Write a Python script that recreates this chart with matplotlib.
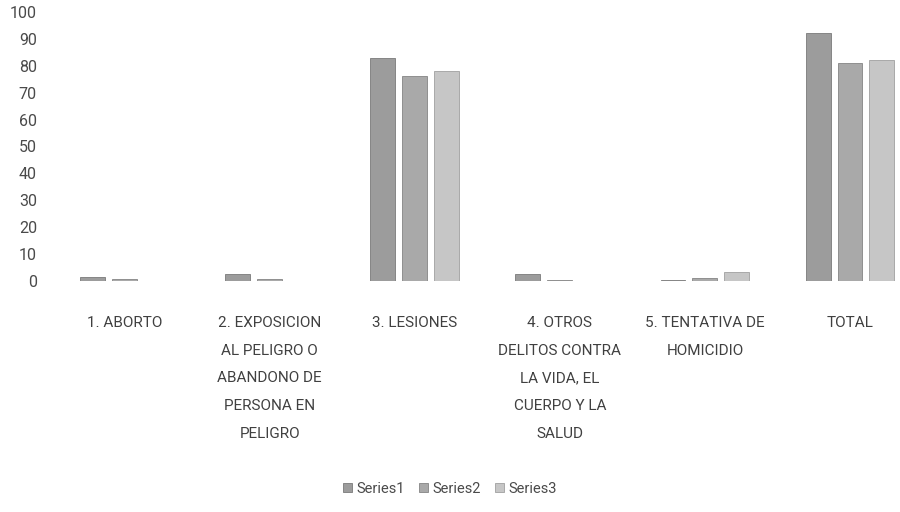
import matplotlib
matplotlib.use("Agg")
import matplotlib.pyplot as plt
import numpy as np

categories = [
    "1. ABORTO",
    "2. EXPOSICION\nAL PELIGRO O\nABANDONO DE\nPERSONA EN\nPELIGRO",
    "3. LESIONES",
    "4. OTROS\nDELITOS CONTRA\nLA VIDA, EL\nCUERPO Y LA\nSALUD",
    "5. TENTATIVA DE\nHOMICIDIO",
    "TOTAL",
]
series_names = ["Series1", "Series2", "Series3"]
series1 = [1.5, 2.5, 83, 2.5, 0.3, 92]
series2 = [0.7, 0.7, 76, 0.4, 1.0, 81]
series3 = [0.0, 0.0, 78, 0.0, 3.5, 82]
yticks = list(range(0, 101, 10))

colors = ["#9c9c9c", "#a9a9a9", "#c6c6c6"]
edges = ["#7a7a7a", "#858585", "#a0a0a0"]

plt.rcParams['font.family'] = ['Roboto', 'DejaVu Sans']

fig = plt.figure(figsize=(9, 5.12), dpi=100)
ax = fig.add_axes([0.058, 0.451, 0.967, 0.526])

x = np.arange(len(categories))
w = 0.172
step = 0.22
for i, (vals, name) in enumerate(zip([series1, series2, series3], series_names)):
    ax.bar(x + (i - 1) * step, vals, width=w, color=colors[i], edgecolor=edges[i],
           linewidth=0.6, label=name)

ax.set_xlim(-0.5, len(categories) - 0.5)
ax.set_ylim(0, 100)
ax.set_yticks(yticks)
ax.set_yticklabels([str(t) for t in yticks], fontsize=11.5, color="#4a4a4a")
ax.set_xticks(x)
ax.set_xticklabels(categories, fontsize=11, color="#404040", linespacing=2.25, va="top")
ax.tick_params(axis="both", length=0)
ax.tick_params(axis="x", pad=25)
ax.tick_params(axis="y", pad=11)
for s in ax.spines.values():
    s.set_visible(False)

leg = fig.legend(loc="center", bbox_to_anchor=(0.5, 0.045), ncol=3, frameon=False,
                 fontsize=10.5, handlelength=0.6, handleheight=0.6, handletextpad=0.3,
                 columnspacing=1.0)
for t in leg.get_texts():
    t.set_color("#4a4a4a")

fig.savefig("out.png", dpi=100)
